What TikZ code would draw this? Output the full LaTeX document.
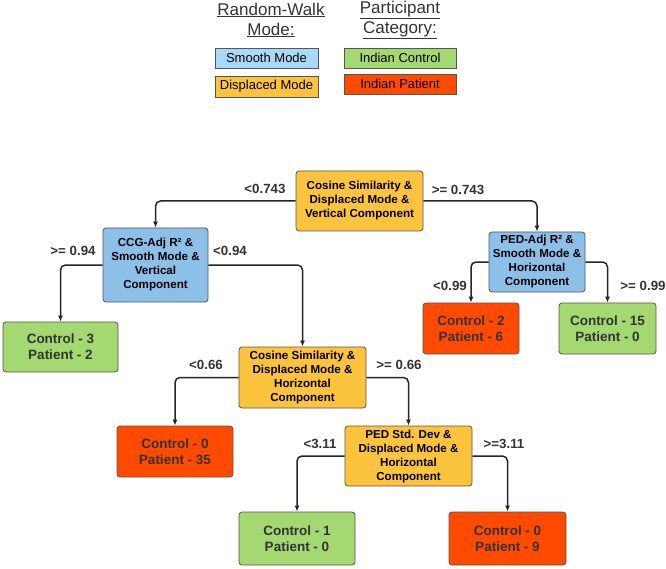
\documentclass[tikz,border=0pt]{standalone}
\usepackage{fontspec}
\setmainfont{Liberation Sans}
\usetikzlibrary{arrows.meta}

\definecolor{keyblue}{HTML}{A9D9F8}
\definecolor{nodeblue}{HTML}{8DC0E8}
\definecolor{nodeorange}{HTML}{FCC33C}
\definecolor{leafgreen}{HTML}{A4D870}
\definecolor{leafred}{HTML}{FF4A00}
\definecolor{rimgray}{HTML}{555555}
\definecolor{inkgray}{HTML}{333333}

\begin{document}
\begin{tikzpicture}[x = 1pt, y = -1pt,
      keybox/.style = {draw = rimgray, line width = 0.8pt, inner sep = 0pt,
                       font = \fontsize{13}{15}\selectfont, text = black},
      splitbox/.style = {draw = rimgray, line width = 0.8pt, rounded corners = 3pt,
                         inner sep = 0pt, align = center, text = black,
                         font = \fontsize{11.6}{14}\selectfont\bfseries},
      smoothbox/.style = {splitbox, fill = nodeblue},
      displacedbox/.style = {splitbox, fill = nodeorange},
      leafbox/.style = {draw = rimgray, line width = 0.8pt, rounded corners = 3pt,
                        inner sep = 0pt, align = center, text = inkgray,
                        font = \fontsize{13.5}{16}\selectfont\bfseries},
      controlleaf/.style = {leafbox, fill = leafgreen},
      patientleaf/.style = {leafbox, fill = leafred},
      cutlabel/.style = {text = inkgray, inner sep = 0pt,
                         font = \fontsize{13.3}{15}\selectfont\bfseries},
      branch/.style = {-{Latex[length = 6pt, width = 5pt]}, line width = 1.5pt,
                       draw = black!85, rounded corners = 5pt}]
      \useasboundingbox [fill = white] (0, 0) rectangle (666, 569);
      % legend
      \node [align = center, font = \fontsize{17}{20}\selectfont, text = inkgray] (keymode) at (271, 20)
            {\underline{Random-Walk}\\ \underline{Mode:}};
      \node [align = center, font = \fontsize{17}{20}\selectfont, text = inkgray] (keycat) at (400, 20)
            {\underline{Participant}\\ \underline{Category:}};
      \node [keybox, fill = keyblue, minimum width = 103pt, minimum height = 20pt] (keysmooth) at (266.5, 58) {Smooth Mode};
      \node [keybox, fill = nodeorange, minimum width = 103pt, minimum height = 21pt] (keydisp) at (266.5, 86.5) {Displaced Mode};
      \node [keybox, fill = leafgreen, minimum width = 112pt, minimum height = 20pt] (keyctrl) at (400, 58) {Indian Control};
      \node [keybox, fill = leafred, minimum width = 112pt, minimum height = 20pt] (keypat) at (400, 84) {Indian Patient};
      % tree
      \node [displacedbox, minimum width = 127pt, minimum height = 60pt] (root) at (359.5, 201)
            {Cosine Similarity \&\\ Displaced Mode \&\\ Vertical Component};
      \node [smoothbox, minimum width = 105pt, minimum height = 74pt] (ccg) at (155.5, 265)
            {CCG-Adj R² \&\\ Smooth Mode \&\\ Vertical\\ Component};
      \node [smoothbox, minimum width = 96pt, minimum height = 60pt] (pedadj) at (537, 262)
            {PED-Adj R² \&\\ Smooth Mode \&\\ Horizontal\\ Component};
      \node [displacedbox, minimum width = 127pt, minimum height = 61pt] (cosh) at (302.5, 377.5)
            {Cosine Similarity \&\\ Displaced Mode \&\\ Horizontal\\ Component};
      \node [displacedbox, minimum width = 127pt, minimum height = 60pt] (pedstd) at (408.5, 456)
            {PED Std. Dev \&\\ Displaced Mode \&\\ Horizontal\\ Component};
      \node [controlleaf, minimum width = 115pt, minimum height = 50pt] (leafa) at (60.5, 347) {Control - 3\\ Patient - 2};
      \node [patientleaf, minimum width = 96pt, minimum height = 51pt] (leafb) at (471, 328.5) {Control - 2\\ Patient - 6};
      \node [controlleaf, minimum width = 97pt, minimum height = 51pt] (leafc) at (607.5, 328.5) {Control - 15\\ Patient - 0};
      \node [patientleaf, minimum width = 116pt, minimum height = 51pt] (leafd) at (175, 451.5) {Control - 0\\ Patient - 35};
      \node [controlleaf, minimum width = 116pt, minimum height = 53pt] (leafe) at (297, 538.5) {Control - 1\\ Patient - 0};
      \node [patientleaf, minimum width = 117pt, minimum height = 53pt] (leaff) at (507.5, 538.5) {Control - 0\\ Patient - 9};
      % split values
      \node [cutlabel] (cutroota) at (265, 189) {<0.743};
      \node [cutlabel] (cutrootb) at (458, 190) {>= 0.743};
      \node [cutlabel] (cutccga) at (73, 251) {>= 0.94};
      \node [cutlabel] (cutccgb) at (230, 251) {<0.94};
      \node [cutlabel] (cutpeda) at (450, 286) {<0.99};
      \node [cutlabel] (cutpedb) at (643, 286) {>= 0.99};
      \node [cutlabel] (cutcosa) at (206, 365) {<0.66};
      \node [cutlabel] (cutcosb) at (399, 365) {>= 0.66};
      \node [cutlabel] (cutstda) at (320, 444) {<3.11};
      \node [cutlabel] (cutstdb) at (504, 444) {>=3.11};
      % branches
      \draw [branch] (root.west) -| (ccg.north);
      \draw [branch] (root.east) -| (pedadj.north);
      \draw [branch] (ccg.west) -| (leafa.north);
      \draw [branch] (ccg.east) -| (cosh.north);
      \draw [branch] (pedadj.west) -| (leafb.north);
      \draw [branch] (pedadj.east) -| (leafc.north);
      \draw [branch] (cosh.west) -| (leafd.north);
      \draw [branch] (cosh.east) -| (pedstd.north);
      \draw [branch] (pedstd.west) -| (leafe.north);
      \draw [branch] (pedstd.east) -| (leaff.north);
    \end{tikzpicture}
\end{document}
